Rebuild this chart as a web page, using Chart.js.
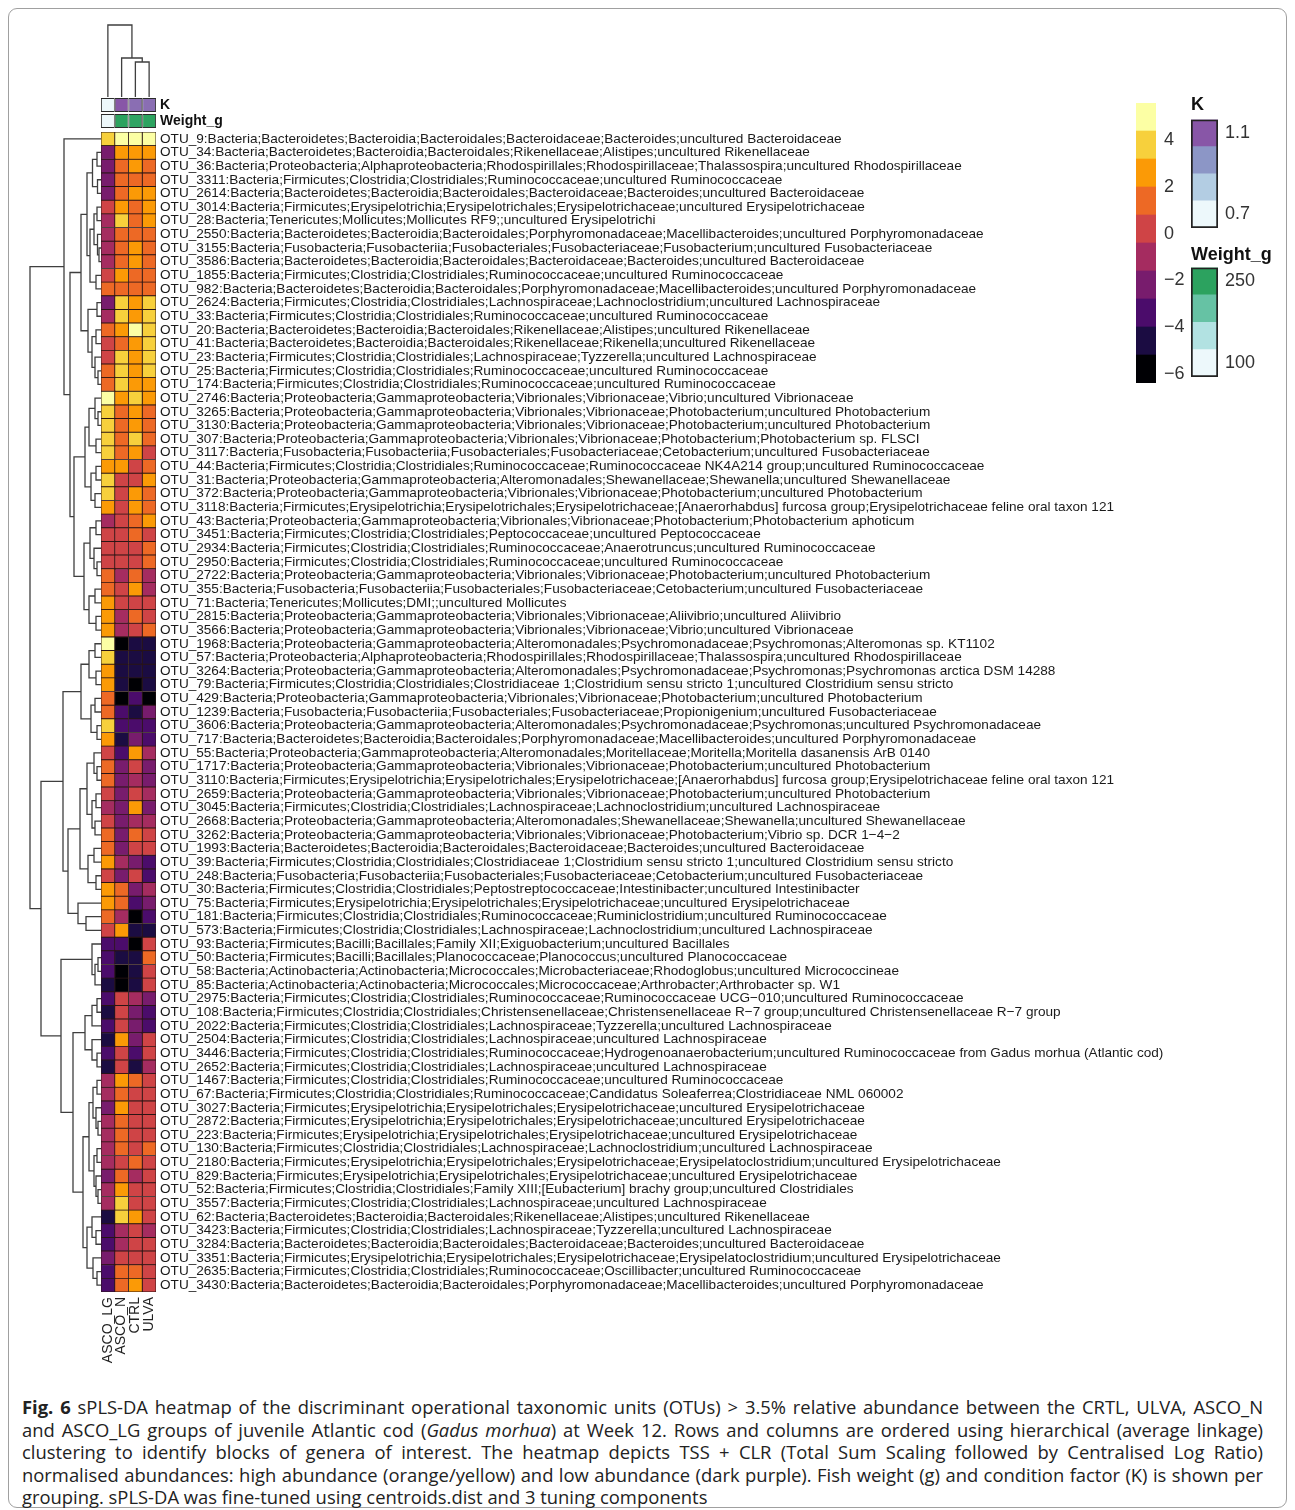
<!DOCTYPE html>
<html>
<head>
<meta charset="utf-8">
<script src="https://cdn.jsdelivr.net/npm/chart.js@4.4.1/dist/chart.umd.min.js"></script>
<style>
html,body{margin:0;padding:0;background:#fff;}
body{width:1295px;height:1510px;position:relative;overflow:hidden;}
.frame{position:absolute;left:8px;top:8px;width:1279px;height:1500px;border:1px solid #a0a0a0;border-radius:9px;box-sizing:border-box;}
.caption{position:absolute;left:22px;top:1396px;width:1241px;font-family:'Open Sans',sans-serif;font-size:18.4px;line-height:22.6px;color:#222;}
.caption div{white-space:nowrap;}
.caption .j{text-align:justify;text-align-last:justify;white-space:normal;}
.caption b{font-weight:700;}
</style>
</head>
<body>
<div class="frame"></div>
<div class="caption">
<div class="j"><b>Fig. 6</b> sPLS-DA heatmap of the discriminant operational taxonomic units (OTUs) &gt; 3.5% relative abundance between the CRTL, ULVA, ASCO_N</div>
<div class="j">and ASCO_LG groups of juvenile Atlantic cod (<i>Gadus morhua</i>) at Week 12. Rows and columns are ordered using hierarchical (average linkage)</div>
<div class="j">clustering to identify blocks of genera of interest. The heatmap depicts TSS + CLR (Total Sum Scaling followed by Centralised Log Ratio)</div>
<div class="j">normalised abundances: high abundance (orange/yellow) and low abundance (dark purple). Fish weight (g) and condition factor (K) is shown per</div>
<div>grouping. sPLS-DA was fine-tuned using centroids.dist and 3 tuning components</div>
</div>
<script>
// ---- data ----
const groupNames = ['ASCO_LG', 'ASCO_N', 'CTRL', 'ULVA'];

const otuNames = [
'OTU_9:Bacteria;Bacteroidetes;Bacteroidia;Bacteroidales;Bacteroidaceae;Bacteroides;uncultured Bacteroidaceae',
'OTU_34:Bacteria;Bacteroidetes;Bacteroidia;Bacteroidales;Rikenellaceae;Alistipes;uncultured Rikenellaceae',
'OTU_36:Bacteria;Proteobacteria;Alphaproteobacteria;Rhodospirillales;Rhodospirillaceae;Thalassospira;uncultured Rhodospirillaceae',
'OTU_3311:Bacteria;Firmicutes;Clostridia;Clostridiales;Ruminococcaceae;uncultured Ruminococcaceae',
'OTU_2614:Bacteria;Bacteroidetes;Bacteroidia;Bacteroidales;Bacteroidaceae;Bacteroides;uncultured Bacteroidaceae',
'OTU_3014:Bacteria;Firmicutes;Erysipelotrichia;Erysipelotrichales;Erysipelotrichaceae;uncultured Erysipelotrichaceae',
'OTU_28:Bacteria;Tenericutes;Mollicutes;Mollicutes RF9;;uncultured Erysipelotrichi',
'OTU_2550:Bacteria;Bacteroidetes;Bacteroidia;Bacteroidales;Porphyromonadaceae;Macellibacteroides;uncultured Porphyromonadaceae',
'OTU_3155:Bacteria;Fusobacteria;Fusobacteriia;Fusobacteriales;Fusobacteriaceae;Fusobacterium;uncultured Fusobacteriaceae',
'OTU_3586:Bacteria;Bacteroidetes;Bacteroidia;Bacteroidales;Bacteroidaceae;Bacteroides;uncultured Bacteroidaceae',
'OTU_1855:Bacteria;Firmicutes;Clostridia;Clostridiales;Ruminococcaceae;uncultured Ruminococcaceae',
'OTU_982:Bacteria;Bacteroidetes;Bacteroidia;Bacteroidales;Porphyromonadaceae;Macellibacteroides;uncultured Porphyromonadaceae',
'OTU_2624:Bacteria;Firmicutes;Clostridia;Clostridiales;Lachnospiraceae;Lachnoclostridium;uncultured Lachnospiraceae',
'OTU_33:Bacteria;Firmicutes;Clostridia;Clostridiales;Ruminococcaceae;uncultured Ruminococcaceae',
'OTU_20:Bacteria;Bacteroidetes;Bacteroidia;Bacteroidales;Rikenellaceae;Alistipes;uncultured Rikenellaceae',
'OTU_41:Bacteria;Bacteroidetes;Bacteroidia;Bacteroidales;Rikenellaceae;Rikenella;uncultured Rikenellaceae',
'OTU_23:Bacteria;Firmicutes;Clostridia;Clostridiales;Lachnospiraceae;Tyzzerella;uncultured Lachnospiraceae',
'OTU_25:Bacteria;Firmicutes;Clostridia;Clostridiales;Ruminococcaceae;uncultured Ruminococcaceae',
'OTU_174:Bacteria;Firmicutes;Clostridia;Clostridiales;Ruminococcaceae;uncultured Ruminococcaceae',
'OTU_2746:Bacteria;Proteobacteria;Gammaproteobacteria;Vibrionales;Vibrionaceae;Vibrio;uncultured Vibrionaceae',
'OTU_3265:Bacteria;Proteobacteria;Gammaproteobacteria;Vibrionales;Vibrionaceae;Photobacterium;uncultured Photobacterium',
'OTU_3130:Bacteria;Proteobacteria;Gammaproteobacteria;Vibrionales;Vibrionaceae;Photobacterium;uncultured Photobacterium',
'OTU_307:Bacteria;Proteobacteria;Gammaproteobacteria;Vibrionales;Vibrionaceae;Photobacterium;Photobacterium sp. FLSCI',
'OTU_3117:Bacteria;Fusobacteria;Fusobacteriia;Fusobacteriales;Fusobacteriaceae;Cetobacterium;uncultured Fusobacteriaceae',
'OTU_44:Bacteria;Firmicutes;Clostridia;Clostridiales;Ruminococcaceae;Ruminococcaceae NK4A214 group;uncultured Ruminococcaceae',
'OTU_31:Bacteria;Proteobacteria;Gammaproteobacteria;Alteromonadales;Shewanellaceae;Shewanella;uncultured Shewanellaceae',
'OTU_372:Bacteria;Proteobacteria;Gammaproteobacteria;Vibrionales;Vibrionaceae;Photobacterium;uncultured Photobacterium',
'OTU_3118:Bacteria;Firmicutes;Erysipelotrichia;Erysipelotrichales;Erysipelotrichaceae;[Anaerorhabdus] furcosa group;Erysipelotrichaceae feline oral taxon 121',
'OTU_43:Bacteria;Proteobacteria;Gammaproteobacteria;Vibrionales;Vibrionaceae;Photobacterium;Photobacterium aphoticum',
'OTU_3451:Bacteria;Firmicutes;Clostridia;Clostridiales;Peptococcaceae;uncultured Peptococcaceae',
'OTU_2934:Bacteria;Firmicutes;Clostridia;Clostridiales;Ruminococcaceae;Anaerotruncus;uncultured Ruminococcaceae',
'OTU_2950:Bacteria;Firmicutes;Clostridia;Clostridiales;Ruminococcaceae;uncultured Ruminococcaceae',
'OTU_2722:Bacteria;Proteobacteria;Gammaproteobacteria;Vibrionales;Vibrionaceae;Photobacterium;uncultured Photobacterium',
'OTU_355:Bacteria;Fusobacteria;Fusobacteriia;Fusobacteriales;Fusobacteriaceae;Cetobacterium;uncultured Fusobacteriaceae',
'OTU_71:Bacteria;Tenericutes;Mollicutes;DMI;;uncultured Mollicutes',
'OTU_2815:Bacteria;Proteobacteria;Gammaproteobacteria;Vibrionales;Vibrionaceae;Aliivibrio;uncultured Aliivibrio',
'OTU_3566:Bacteria;Proteobacteria;Gammaproteobacteria;Vibrionales;Vibrionaceae;Vibrio;uncultured Vibrionaceae',
'OTU_1968:Bacteria;Proteobacteria;Gammaproteobacteria;Alteromonadales;Psychromonadaceae;Psychromonas;Alteromonas sp. KT1102',
'OTU_57:Bacteria;Proteobacteria;Alphaproteobacteria;Rhodospirillales;Rhodospirillaceae;Thalassospira;uncultured Rhodospirillaceae',
'OTU_3264:Bacteria;Proteobacteria;Gammaproteobacteria;Alteromonadales;Psychromonadaceae;Psychromonas;Psychromonas arctica DSM 14288',
'OTU_79:Bacteria;Firmicutes;Clostridia;Clostridiales;Clostridiaceae 1;Clostridium sensu stricto 1;uncultured Clostridium sensu stricto',
'OTU_429:Bacteria;Proteobacteria;Gammaproteobacteria;Vibrionales;Vibrionaceae;Photobacterium;uncultured Photobacterium',
'OTU_1239:Bacteria;Fusobacteria;Fusobacteriia;Fusobacteriales;Fusobacteriaceae;Propionigenium;uncultured Fusobacteriaceae',
'OTU_3606:Bacteria;Proteobacteria;Gammaproteobacteria;Alteromonadales;Psychromonadaceae;Psychromonas;uncultured Psychromonadaceae',
'OTU_717:Bacteria;Bacteroidetes;Bacteroidia;Bacteroidales;Porphyromonadaceae;Macellibacteroides;uncultured Porphyromonadaceae',
'OTU_55:Bacteria;Proteobacteria;Gammaproteobacteria;Alteromonadales;Moritellaceae;Moritella;Moritella dasanensis ArB 0140',
'OTU_1717:Bacteria;Proteobacteria;Gammaproteobacteria;Vibrionales;Vibrionaceae;Photobacterium;uncultured Photobacterium',
'OTU_3110:Bacteria;Firmicutes;Erysipelotrichia;Erysipelotrichales;Erysipelotrichaceae;[Anaerorhabdus] furcosa group;Erysipelotrichaceae feline oral taxon 121',
'OTU_2659:Bacteria;Proteobacteria;Gammaproteobacteria;Vibrionales;Vibrionaceae;Photobacterium;uncultured Photobacterium',
'OTU_3045:Bacteria;Firmicutes;Clostridia;Clostridiales;Lachnospiraceae;Lachnoclostridium;uncultured Lachnospiraceae',
'OTU_2668:Bacteria;Proteobacteria;Gammaproteobacteria;Alteromonadales;Shewanellaceae;Shewanella;uncultured Shewanellaceae',
'OTU_3262:Bacteria;Proteobacteria;Gammaproteobacteria;Vibrionales;Vibrionaceae;Photobacterium;Vibrio sp. DCR 1\u22124\u22122',
'OTU_1993:Bacteria;Bacteroidetes;Bacteroidia;Bacteroidales;Bacteroidaceae;Bacteroides;uncultured Bacteroidaceae',
'OTU_39:Bacteria;Firmicutes;Clostridia;Clostridiales;Clostridiaceae 1;Clostridium sensu stricto 1;uncultured Clostridium sensu stricto',
'OTU_248:Bacteria;Fusobacteria;Fusobacteriia;Fusobacteriales;Fusobacteriaceae;Cetobacterium;uncultured Fusobacteriaceae',
'OTU_30:Bacteria;Firmicutes;Clostridia;Clostridiales;Peptostreptococcaceae;Intestinibacter;uncultured Intestinibacter',
'OTU_75:Bacteria;Firmicutes;Erysipelotrichia;Erysipelotrichales;Erysipelotrichaceae;uncultured Erysipelotrichaceae',
'OTU_181:Bacteria;Firmicutes;Clostridia;Clostridiales;Ruminococcaceae;Ruminiclostridium;uncultured Ruminococcaceae',
'OTU_573:Bacteria;Firmicutes;Clostridia;Clostridiales;Lachnospiraceae;Lachnoclostridium;uncultured Lachnospiraceae',
'OTU_93:Bacteria;Firmicutes;Bacilli;Bacillales;Family XII;Exiguobacterium;uncultured Bacillales',
'OTU_50:Bacteria;Firmicutes;Bacilli;Bacillales;Planococcaceae;Planococcus;uncultured Planococcaceae',
'OTU_58:Bacteria;Actinobacteria;Actinobacteria;Micrococcales;Microbacteriaceae;Rhodoglobus;uncultured Micrococcineae',
'OTU_85:Bacteria;Actinobacteria;Actinobacteria;Micrococcales;Micrococcaceae;Arthrobacter;Arthrobacter sp. W1',
'OTU_2975:Bacteria;Firmicutes;Clostridia;Clostridiales;Ruminococcaceae;Ruminococcaceae UCG\u2212010;uncultured Ruminococcaceae',
'OTU_108:Bacteria;Firmicutes;Clostridia;Clostridiales;Christensenellaceae;Christensenellaceae R\u22127 group;uncultured Christensenellaceae R\u22127 group',
'OTU_2022:Bacteria;Firmicutes;Clostridia;Clostridiales;Lachnospiraceae;Tyzzerella;uncultured Lachnospiraceae',
'OTU_2504:Bacteria;Firmicutes;Clostridia;Clostridiales;Lachnospiraceae;uncultured Lachnospiraceae',
'OTU_3446:Bacteria;Firmicutes;Clostridia;Clostridiales;Ruminococcaceae;Hydrogenoanaerobacterium;uncultured Ruminococcaceae from Gadus morhua (Atlantic cod)',
'OTU_2652:Bacteria;Firmicutes;Clostridia;Clostridiales;Lachnospiraceae;uncultured Lachnospiraceae',
'OTU_1467:Bacteria;Firmicutes;Clostridia;Clostridiales;Ruminococcaceae;uncultured Ruminococcaceae',
'OTU_67:Bacteria;Firmicutes;Clostridia;Clostridiales;Ruminococcaceae;Candidatus Soleaferrea;Clostridiaceae NML 060002',
'OTU_3027:Bacteria;Firmicutes;Erysipelotrichia;Erysipelotrichales;Erysipelotrichaceae;uncultured Erysipelotrichaceae',
'OTU_2872:Bacteria;Firmicutes;Erysipelotrichia;Erysipelotrichales;Erysipelotrichaceae;uncultured Erysipelotrichaceae',
'OTU_223:Bacteria;Firmicutes;Erysipelotrichia;Erysipelotrichales;Erysipelotrichaceae;uncultured Erysipelotrichaceae',
'OTU_130:Bacteria;Firmicutes;Clostridia;Clostridiales;Lachnospiraceae;Lachnoclostridium;uncultured Lachnospiraceae',
'OTU_2180:Bacteria;Firmicutes;Erysipelotrichia;Erysipelotrichales;Erysipelotrichaceae;Erysipelatoclostridium;uncultured Erysipelotrichaceae',
'OTU_829:Bacteria;Firmicutes;Erysipelotrichia;Erysipelotrichales;Erysipelotrichaceae;uncultured Erysipelotrichaceae',
'OTU_52:Bacteria;Firmicutes;Clostridia;Clostridiales;Family XIII;[Eubacterium] brachy group;uncultured Clostridiales',
'OTU_3557:Bacteria;Firmicutes;Clostridia;Clostridiales;Lachnospiraceae;uncultured Lachnospiraceae',
'OTU_62:Bacteria;Bacteroidetes;Bacteroidia;Bacteroidales;Rikenellaceae;Alistipes;uncultured Rikenellaceae',
'OTU_3423:Bacteria;Firmicutes;Clostridia;Clostridiales;Lachnospiraceae;Tyzzerella;uncultured Lachnospiraceae',
'OTU_3284:Bacteria;Bacteroidetes;Bacteroidia;Bacteroidales;Bacteroidaceae;Bacteroides;uncultured Bacteroidaceae',
'OTU_3351:Bacteria;Firmicutes;Erysipelotrichia;Erysipelotrichales;Erysipelotrichaceae;Erysipelatoclostridium;uncultured Erysipelotrichaceae',
'OTU_2635:Bacteria;Firmicutes;Clostridia;Clostridiales;Ruminococcaceae;Oscillibacter;uncultured Ruminococcaceae',
'OTU_3430:Bacteria;Bacteroidetes;Bacteroidia;Bacteroidales;Porphyromonadaceae;Macellibacteroides;uncultured Porphyromonadaceae'
];

// TSS + CLR normalised abundance per group (one entry per OTU row, same order as otuNames)
const ascoLG = [
 3.8,-2.2,-2.3,-2.1,-2.2, 0.2,-1.0,-0.9,-1.1,-1.0,
 0.3, 1.4,-2.2,-1.2, 1.3, 0.2, 0.1, 1.4, 1.5, 5.0,
 3.8, 3.7, 3.9, 3.6, 2.6, 3.8, 3.7, 2.5,-1.0, 0.2,
 0.3, 0.1, 1.4, 1.3, 2.6, 2.5, 2.7, 5.0, 3.8, 2.6,
 2.6, 1.4, 1.3, 3.8, 2.6, 0.2, 1.4, 1.3, 0.2,-1.0,
 0.3, 1.4, 1.2, 2.6, 0.2, 2.7, 2.6, 1.4, 0.2,-3.4,
-3.3,-3.5,-4.6,-3.4,-4.5,-3.3,-4.7,-3.4,-4.6,-1.0,
-0.9,-2.2,-1.0,-1.1,-1.0,-0.9,-2.3,-1.0,-1.1,-4.8,
-3.4,-3.5,-2.2,-3.3,-3.4];
const ascoN = [
 5.0, 2.6, 1.4, 1.3, 1.4, 2.6, 3.8, 1.4, 1.3, 1.4,
 2.6, 1.4, 3.8, 3.7, 2.6, 1.4, 3.8, 3.9, 3.7, 2.6,
 1.4, 1.3, 1.4, 1.5, 2.6, 0.2, 0.3, 0.1, 0.2, 0.2,
 0.3, 0.2,-1.0, 0.2, 0.1,-1.0,-0.9,-5.8,-4.6,-4.5,
-4.7,-5.9,-3.4,-3.3,-4.6,-3.4,-2.2,-2.3,-2.2,-2.1,
-2.2,-2.3,-2.2,-1.0,-2.2, 1.4, 1.3,-1.0, 2.6,-3.4,
-4.6,-5.8,-5.9, 0.2, 0.3, 0.2, 2.6, 0.1, 0.2, 2.6,
 1.4, 2.7, 1.3, 1.4, 1.5, 0.2, 1.4, 2.6, 3.8, 3.9,
-1.0,-0.9, 0.2, 1.4, 1.3];
const ctrl = [
 5.0, 2.6, 2.7, 1.4, 2.6, 1.3, 1.4, 1.5, 2.6, 2.5,
 1.4, 1.3, 2.6, 2.7, 5.1, 2.6, 2.5, 2.6, 2.7, 3.8,
 2.6, 2.5, 3.8, 2.6, 0.2, 0.3, 2.6, 2.5, 1.4, 1.3,
 0.2, 0.1, 1.4, 2.6, 0.2, 1.4, 0.3,-4.6,-4.5,-4.7,
-5.8,-3.4,-4.6,-3.3,-2.2, 2.6, 0.2,-1.0, 0.3, 2.6,
-1.1, 1.4, 0.2,-2.2, 0.1,-2.3,-3.4,-5.8,-4.6,-5.9,
-4.6,-4.5,-4.7,-1.0,-2.2,-2.3,-2.2,-3.4,-4.6, 1.4,
 0.2, 0.3, 0.2, 0.1, 0.2, 1.4,-1.0, 0.2, 0.3, 2.6,
 0.2, 0.3, 0.2, 1.4, 2.6];
const ulva = [
 5.0, 2.6, 1.4, 1.3, 2.6, 2.7, 2.6, 1.4, 1.3, 1.4,
 1.5, 1.4, 3.8, 3.7, 3.8, 3.9, 3.8, 3.7, 2.6, 2.6,
 1.4, 1.3, 1.4, 0.2, 1.4, 2.6, 1.3, 1.4, 2.6, 0.2,
 1.4, 1.3,-1.0,-0.9, 0.2, 0.3, 1.4,-4.6,-4.5,-4.6,
-4.7,-5.8,-2.2,-3.4,-3.3,-1.0,-2.2,-2.3,-1.0,-2.2,
-0.9, 0.2, 0.3,-3.4,-3.3,-1.0,-2.2,-3.4,-4.6, 0.2,
 1.4, 0.2, 0.3,-2.2,-3.4,-3.3, 0.2, 0.3,-1.0, 0.2,
 0.3, 0.2, 0.1, 0.2, 1.4, 0.2, 0.3, 0.2, 0.2, 0.3,
-1.0, 0.2, 0.3, 0.2, 0.2];

// per-group covariates
const kFactor = [0.70, 1.10, 1.05, 1.05];
const weightG = [100, 252, 247, 249];

// colour scales
const heatBreaks = [-6.4, -5.2, -4.0, -2.8, -1.6, -0.4, 0.8, 2.0, 3.2, 4.4, 5.6];
const heatColors = ['#000004', '#1b0c42', '#4b0c6b', '#781c6d', '#a52c60', '#cf4446', '#ed6925', '#fb9a06', '#f7d03c', '#fcffa4'];
const heatTicks = [-6, -4, -2, 0, 2, 4];
const kColors = ['#edf8fb', '#b3cde3', '#8c96c6', '#8856a7'];
const kRange = [0.7, 1.1];
const weightColors = ['#edf8fb', '#b2e2e2', '#66c2a4', '#2ca25f'];
const weightRange = [100, 250];

// average-linkage trees: [height, left, right], leaves are 1-based row / column positions
const rowTree =
[7.1,
  [3.7, 1,
    [3.1,
      [2.0,
        [1.4,
          [0.85, [0.4, 2, 3], [0.35, 4, 5]],
          [1.1, [0.7, [0.4, 6, 7], [0.35, 8, [0.2, 9, 10]]], [0.5, 11, 12]]],
        [1.3, [0.4, 13, 14], [0.9, [0.5, 15, 16], [0.6, 17, [0.3, 18, 19]]]]],
      [2.7,
        [1.6, [1.2, [0.6, 20, [0.3, 21, 22]], [0.5, 23, 24]], [1.0, [0.5, 25, 26], [0.6, 27, 28]]],
        [1.7, [1.1, [0.5, 29, 30], [0.7, 31, [0.4, 32, 33]]], [1.2, [0.6, 34, 35], [0.5, 36, 37]]]]]],
  [6.0,
    [3.8,
      [2.0, [1.2, [0.6, 38, 39], [0.5, 40, 41]], [1.0, [0.6, 42, 43], [0.4, 44, 45]]],
      [3.3,
        [2.1, [1.4, [0.7, 46, [0.4, 47, 48]], [0.9, [0.5, 49, 50], [0.6, 51, 52]]], [1.3, [0.7, 53, 54], [0.5, 55, 56]]],
        [2.3, 57, [1.5, 58, 59]]]],
    [4.0,
      [0.9, 60, [0.6, [0.3, 61, 62], 63]],
      [2.8,
        [1.6, [0.9, [0.4, 64, 65], 66], [0.9, 67, [0.4, 68, 69]]],
        [1.8,
          [1.2, [0.8, [0.4, 70, 71], [0.5, 72, [0.3, 73, 74]]], [0.7, [0.4, 75, 76], [0.5, 77, [0.3, 78, 79]]]],
          [1.4, [0.9, 80, [0.5, 81, 82]], [0.8, 83, [0.4, 84, 85]]]]]]]];
const colTree = [7.2, 1, [3.9, 2, [3.5, 3, 4]]];

// ---- helpers ----
const FONT = "'Liberation Sans', Arial, Helvetica, sans-serif";
Chart.defaults.font.family = FONT;
Chart.defaults.color = '#222';

function heatColor(v) {
  for (let i = 0; i < heatColors.length; i++) if (v < heatBreaks[i + 1]) return heatColors[i];
  return heatColors[heatColors.length - 1];
}
function hexRgb(h) { return [1, 3, 5].map(i => parseInt(h.substr(i, 2), 16)); }
function rampColor(colors, range, v) {
  let t = (v - range[0]) / (range[1] - range[0]);
  t = Math.max(0, Math.min(1, t)) * (colors.length - 1);
  const i = Math.min(Math.floor(t), colors.length - 2), f = t - i;
  const a = hexRgb(colors[i]), b = hexRgb(colors[i + 1]);
  return 'rgb(' + a.map((c, k) => Math.round(c + (b[k] - c) * f)).join(',') + ')';
}
function treeSegments(tree) {
  const segs = [];
  (function walk(n) {
    if (typeof n === 'number') return { p: n, h: 0 };
    const a = walk(n[1]), b = walk(n[2]), h = n[0];
    segs.push([[a.h, a.p], [h, a.p], [h, b.p], [b.h, b.p]]);
    return { p: (a.p + b.p) / 2, h };
  })(tree);
  return segs;
}
function place(left, top, width, height) {
  const c = document.createElement('canvas');
  c.width = Math.round(width); c.height = Math.round(height);
  c.style.cssText = 'position:absolute;left:' + left + 'px;top:' + top + 'px;width:' + Math.round(width) + 'px;height:' + Math.round(height) + 'px;';
  document.body.appendChild(c);
  return c.getContext('2d');
}
const base = {
  responsive: false, animation: false, events: [],
  plugins: { legend: { display: false }, tooltip: { enabled: false }, title: { display: false } }
};

// ---- geometry of the heat map block ----
const HM = { left: 101, top: 132, width: 55, height: 1160 };
const PAD = 14;
const LABEL_W = 1045, COLLABEL_H = 90;
const cellColumns = [ascoLG, ascoN, ctrl, ulva];

// ---- heat map with OTU labels and group labels ----
new Chart(place(HM.left - PAD, HM.top - PAD, PAD + HM.width + LABEL_W, PAD + HM.height + COLLABEL_H), {
  type: 'bar',
  data: {
    labels: otuNames,
    datasets: cellColumns.map((vals, c) => ({
      data: vals.map(() => [c, c + 1]),
      backgroundColor: vals.map(heatColor),
      borderColor: '#2a1515', borderWidth: 0.8, borderSkipped: false,
      barPercentage: 1, categoryPercentage: 1, grouped: false,
      xAxisID: 'x', yAxisID: 'y'
    }))
  },
  options: Object.assign({}, base, {
    indexAxis: 'y',
    layout: { padding: { left: PAD, top: PAD, right: 0, bottom: 0 } },
    scales: {
      x: { type: 'linear', min: 0, max: groupNames.length, display: false },
      xGroups: {
        type: 'category', labels: groupNames, position: 'bottom', offset: true,
        grid: { display: false, drawTicks: false }, border: { display: false },
        ticks: { autoSkip: false, minRotation: 90, maxRotation: 90, padding: 5, color: '#222', font: { size: 14 } },
        afterFit(s) { s.height = COLLABEL_H; }
      },
      y: {
        type: 'category', position: 'right', offset: true,
        grid: { display: false, drawTicks: false }, border: { display: false },
        ticks: { autoSkip: false, padding: 4, color: '#1a1a1a', font: { size: 13.6 } },
        afterFit(s) { s.width = LABEL_W; }
      }
    }
  })
});

// ---- group annotation rows (K, Weight_g) ----
const annNames = ['K', 'Weight_g'];
const ANN = { top: 97, height: 32 };
new Chart(place(HM.left - PAD, ANN.top - PAD, PAD + HM.width + 110, PAD + ANN.height + PAD), {
  type: 'bar',
  data: {
    labels: annNames,
    datasets: groupNames.map((g, c) => ({
      data: annNames.map(() => [c, c + 1]),
      backgroundColor: [rampColor(kColors, kRange, kFactor[c]), rampColor(weightColors, weightRange, weightG[c])],
      borderColor: '#2a2a2a', borderWidth: 0.9, borderSkipped: false,
      barPercentage: 0.875, categoryPercentage: 1, grouped: false
    }))
  },
  options: Object.assign({}, base, {
    indexAxis: 'y',
    layout: { padding: { left: PAD, top: PAD, right: 0, bottom: PAD } },
    scales: {
      x: { type: 'linear', min: 0, max: groupNames.length, display: false },
      y: {
        type: 'category', position: 'right', offset: true,
        grid: { display: false, drawTicks: false }, border: { display: false },
        ticks: { autoSkip: false, padding: 4, color: '#111', font: { size: 14, weight: 'bold' } },
        afterFit(s) { s.width = 110; }
      }
    }
  })
});

// ---- dendrograms ----
function dendroDatasets(segs, toPoint) {
  return segs.map(s => ({
    data: s.map(toPoint), showLine: true, pointRadius: 0,
    borderColor: '#3f3f3f', borderWidth: 1.3, fill: false
  }));
}
const ROWD = { left: 20, width: HM.left - 20, hmax: 8.1 };
new Chart(place(ROWD.left, HM.top, ROWD.width, HM.height), {
  type: 'scatter',
  data: { datasets: dendroDatasets(treeSegments(rowTree), q => ({ x: q[0], y: q[1] })) },
  options: Object.assign({}, base, {
    layout: { padding: 0 },
    scales: {
      x: { type: 'linear', min: 0, max: ROWD.hmax, reverse: true, display: false },
      y: { type: 'linear', min: 0.5, max: otuNames.length + 0.5, reverse: true, display: false }
    }
  })
});
const COLD = { top: 15, height: ANN.top - 15, hmax: 8.2 };
new Chart(place(HM.left, COLD.top, HM.width, COLD.height), {
  type: 'scatter',
  data: { datasets: dendroDatasets(treeSegments(colTree), q => ({ x: q[1], y: q[0] })) },
  options: Object.assign({}, base, {
    layout: { padding: 0 },
    scales: {
      x: { type: 'linear', min: 0.5, max: groupNames.length + 0.5, display: false },
      y: { type: 'linear', min: 0, max: COLD.hmax, display: false }
    }
  })
});

// ---- colour keys ----
const minusSign = v => String(v).replace('-', '\u2212');
function keyChart(opts) {
  const { left, top, width, height, breaks, colors, ticks, fmt, outline, title } = opts;
  const titleH = title ? 18 * 1.2 + title.gap : 0;
  const padV = 20;
  const datasets = [];
  if (outline) datasets.push({
    data: [[breaks[0], breaks[breaks.length - 1]]], backgroundColor: 'rgba(0,0,0,0)',
    borderColor: '#222', borderWidth: 1.4, borderSkipped: false,
    barPercentage: 1, categoryPercentage: 1, grouped: false
  });
  colors.forEach((col, i) => datasets.push({
    data: [[breaks[i], breaks[i + 1]]], backgroundColor: col, borderWidth: 0,
    barPercentage: 1, categoryPercentage: 1, grouped: false
  }));
  new Chart(place(left, top - (title ? titleH : padV), width + 60, height + padV + (title ? titleH : padV)), {
    type: 'bar',
    data: { labels: [''], datasets },
    options: Object.assign({}, base, {
      layout: { padding: { left: 0, right: 0, top: title ? 0 : padV, bottom: padV } },
      plugins: {
        legend: { display: false }, tooltip: { enabled: false },
        title: title ? { display: true, text: title.text, align: 'start', color: '#111',
          font: { size: 18, weight: 'bold' }, padding: { top: 0, bottom: title.gap } } : { display: false }
      },
      scales: {
        x: { display: false },
        y: {
          type: 'linear', position: 'right', min: breaks[0], max: breaks[breaks.length - 1],
          grid: { display: false, drawTicks: false }, border: { display: false },
          afterBuildTicks(s) { s.ticks = ticks.map(v => ({ value: v })); },
          ticks: { padding: opts.tickPad, color: '#333', font: { size: 18 }, callback: fmt },
          afterFit(s) { s.width = 60; }
        }
      }
    })
  });
}
keyChart({ left: 1136, top: 103, width: 20, height: 280, breaks: heatBreaks, colors: heatColors,
  ticks: heatTicks, fmt: v => minusSign(v), tickPad: 8 });
const kStep = (kRange[1] - kRange[0]) / (kColors.length - 1);
keyChart({ left: 1191, top: 120, width: 27, height: 108,
  breaks: kColors.map((_, i) => kRange[0] - kStep / 2 + i * kStep).concat([kRange[1] + kStep / 2]),
  colors: kColors, ticks: kRange, fmt: v => v.toFixed(1), tickPad: 7, outline: true,
  title: { text: 'K', gap: 4 } });
const wStep = (weightRange[1] - weightRange[0]) / (weightColors.length - 1);
keyChart({ left: 1191, top: 268, width: 27, height: 109,
  breaks: weightColors.map((_, i) => weightRange[0] - wStep / 2 + i * wStep).concat([weightRange[1] + wStep / 2]),
  colors: weightColors, ticks: weightRange, fmt: v => String(v), tickPad: 7, outline: true,
  title: { text: 'Weight_g', gap: 2 } });
</script>
</body>
</html>
